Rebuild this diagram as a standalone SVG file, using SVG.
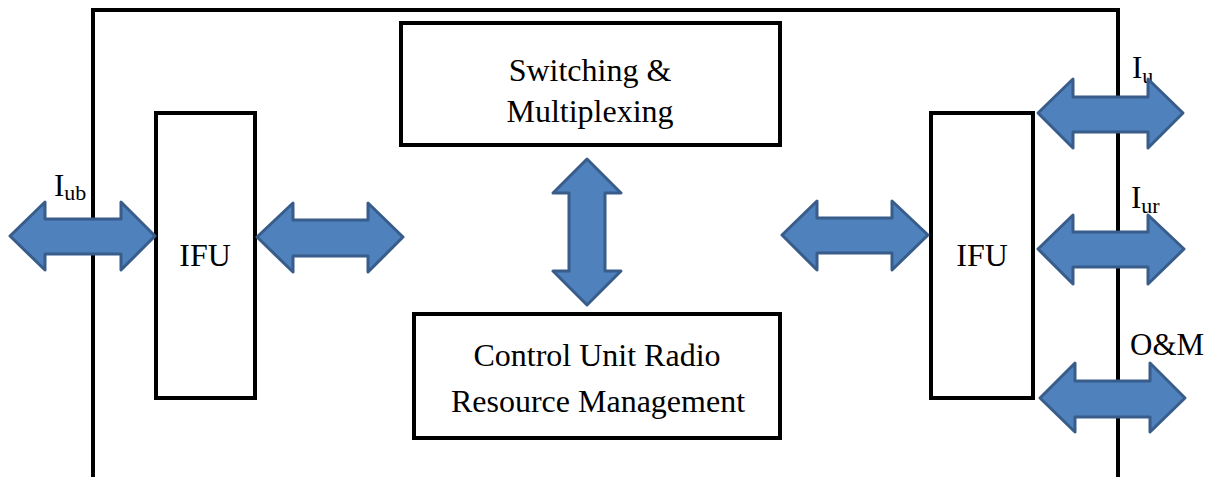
<svg xmlns="http://www.w3.org/2000/svg" width="1214" height="477" viewBox="0 0 1214 477">
  <style>
    .box { fill: #ffffff; stroke: #000000; stroke-width: 4; }
    .arrow { fill: #4F81BD; stroke: #385D8A; stroke-width: 3; stroke-linejoin: round; }
    .label { font-family: "Liberation Serif", "Times New Roman", serif; font-size: 32px; fill: #000000; }
    .mid { text-anchor: middle; }
    .iface { font-size: 31px; }
    .sub { font-size: 22px; }
  </style>
  <rect width="1214" height="477" fill="#ffffff"/>

  <!-- outer enclosure (RNC) -->
  <g id="enclosure">
    <rect class="box" x="93" y="10" width="1025" height="480"/>
  </g>

  <g id="ifu-left">
    <rect class="box" x="156" y="113" width="99" height="285"/>
    <text class="label mid" x="205" y="266">IFU</text>
  </g>

  <g id="ifu-right">
    <rect class="box" x="931" y="113" width="102" height="285"/>
    <text class="label mid" x="982" y="266">IFU</text>
  </g>

  <g id="switching">
    <rect class="box" x="401" y="23" width="379" height="122"/>
    <text class="label mid" x="590" y="81">Switching &amp;</text>
    <text class="label mid" x="590" y="122">Multiplexing</text>
  </g>

  <g id="control">
    <rect class="box" x="414" y="314" width="366" height="124"/>
    <text class="label mid" x="597" y="366">Control Unit Radio</text>
    <text class="label mid" x="598" y="412">Resource Management</text>
  </g>

  <!-- interface labels -->
  <g id="labels">
    <text class="label iface" x="54" y="196">I<tspan class="sub" dy="4">ub</tspan></text>
    <text class="label iface" x="1132" y="78">I<tspan class="sub" dy="5">u</tspan></text>
    <text class="label iface" x="1131" y="208">I<tspan class="sub" dy="5">ur</tspan></text>
    <text class="label iface" x="1130" y="355">O&amp;M</text>
  </g>

  <!-- double-headed block arrows -->
  <g id="connectors">
    <!-- Iub -->
    <polygon class="arrow" points="10,236 45,202 45,219 121,219 121,202 155,236 121,270 121,254 45,254 45,270"/>
    <!-- left IFU to core -->
    <polygon class="arrow" points="257,237 293,203 293,220 368,220 368,203 403,237 368,272 368,256 293,256 293,272"/>
    <!-- core to right IFU -->
    <polygon class="arrow" points="782,235 817,201 817,218 892,218 892,201 928,235 892,270 892,253 817,253 817,270"/>
    <!-- switching to control -->
    <polygon class="arrow" points="587,159 621,193 605,193 605,271 621,271 587,305 553,271 569,271 569,193 553,193"/>
    <!-- Iu -->
    <polygon class="arrow" points="1038,113 1073,79 1073,97 1148,97 1148,79 1183,113 1148,148 1148,132 1073,132 1073,148"/>
    <!-- Iur -->
    <polygon class="arrow" points="1038,249 1073,215 1073,232 1148,232 1148,215 1184,249 1148,284 1148,267 1073,267 1073,284"/>
    <!-- O&M -->
    <polygon class="arrow" points="1040,398 1075,363 1075,381 1150,381 1150,363 1185,398 1150,432 1150,417 1075,417 1075,432"/>
  </g>
</svg>
